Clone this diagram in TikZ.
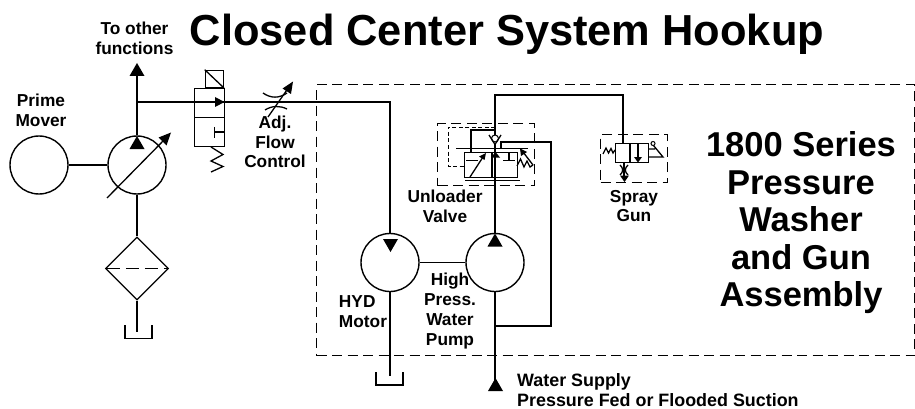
\documentclass[tikz,border=0pt]{standalone}
\usepackage{fontspec}
\setmainfont{Liberation Sans}
\usetikzlibrary{shapes.geometric}
\tikzset{
  ln/.style={line width=1.3pt,line join=miter},
  round sym/.style={circle,draw,line width=1.4pt,minimum size=58pt,inner sep=0pt},
  frame/.style={line width=1.1pt,dash pattern=on 10pt off 5.5pt},
  fine frame/.style={line width=0.9pt,dash pattern=on 4pt off 2.5pt},
  lab/.style={font=\fontsize{17.3}{19.8}\selectfont\bfseries,align=center,inner sep=0pt},
  big/.style={font=\fontsize{34.5}{37.5}\selectfont\bfseries,align=center,inner sep=0pt},
  ttl/.style={font=\fontsize{43.4}{48}\selectfont\bfseries,inner sep=0pt}
}
\newcommand{\triU}[2]{\fill (#1,#2) -- ++(-7.5,13) -- ++(15,0) -- cycle;}
\begin{document}
\begin{tikzpicture}[x=1pt,y=-1pt]
\useasboundingbox (0,0) rectangle (915,409);
% title and labels
\node[ttl,anchor=base] (title) at (507,46) {Closed Center System Hookup};
\node[lab] (others) at (134.5,38.5) {To other\\functions};
\node[lab] (primelab) at (41,110) {Prime\\Mover};
\node[lab] (flowlab) at (275,142) {Adj.\\Flow\\Control};
\node[lab] (unlab) at (445,206) {Unloader\\Valve};
\node[lab] (spraylab) at (634,206) {Spray\\Gun};
\node[lab,align=left] (hydlab) at (363,312) {HYD\\Motor};
\node[lab] (hplab) at (450,311) {High\\Press.\\Water\\Pump};
\node[font=\fontsize{17.9}{19.8}\selectfont\bfseries,align=left,inner sep=0pt,anchor=west] (waterlab) at (517,390) {Water Supply\\Pressure Fed or Flooded Suction};
\node[big] (serieslab) at (801,223) {1800 Series\\Pressure\\Washer\\and Gun\\Assembly};
% big frame
\node[draw,frame,minimum width=598pt,minimum height=271pt,inner sep=0pt,anchor=north west] (assy) at (316,84) {};
% round symbols
\node[round sym] (prime) at (39,165) {};
\node[round sym] (pump) at (137,165) {};
\node[round sym] (motor) at (390,262.5) {};
\node[round sym] (wpump) at (495,262.5) {};
\node[diamond,draw,line width=1.3pt,minimum width=63pt,minimum height=63pt,inner sep=0pt,aspect=1] (filter) at (137,268.5) {};
% left connections
\draw[ln] (prime) -- (pump);
\coordinate (upT) at (137,74);
\draw[ln] (pump.north) -- (upT);
\triU{137}{63}
\triU{137}{136}
\draw[ln] (pump.south) -- (filter.north);
\draw[line width=1.3pt,dash pattern=on 13pt off 6pt,dash phase=-2pt] (filter.west) -- (filter.east);
\coordinate (tankA) at (137,332);
\draw[ln] (filter.south) -- (tankA);
\draw[ln] (125,325) -- (125,338.5) -- (152,338.5) -- (152,325);
% variable pump arrow
\draw[ln] (107,198) -- (166,138);
\fill (171,132.5) -- (158.5,137.5) -- (166.5,145.5) -- cycle;
% directional valve
\node[draw,ln,minimum width=30pt,minimum height=29pt,inner sep=0pt,anchor=north west] (vtop) at (194,88) {};
\node[draw,ln,minimum width=30pt,minimum height=29pt,inner sep=0pt,anchor=north west] (vbot) at (194,117) {};
\node[draw,ln,minimum width=18pt,minimum height=17pt,inner sep=0pt,anchor=south east] (sol) at (224,88) {};
\draw[ln] (sol.north west) -- (sol.south east);
\fill (224.5,102) -- (215,97) -- (215,107) -- cycle;
\draw[ln] (224,132) -- (214.5,132) (214.5,127) -- (214.5,137.5);
\draw[ln] (211,147) -- (223,154.5) -- (211,161) -- (223,166.5) -- (211,172);
% main pressure line to motor
\coordinate (junc) at (137,102);
\coordinate (corner) at (390,102);
\draw[ln] (junc) -- (corner) -- (motor.north);
\fill (390.5,252) -- (383,239) -- (398,239) -- cycle;
% flow control
\draw[ln] (263,93) .. controls (271,98.5) and (279,98.5) .. (287,93);
\draw[ln] (265,110) .. controls (272,105.5) and (280,105.5) .. (287,109);
\draw[ln] (268,117) -- (289,87);
\fill (293,81.5) -- (282.5,88.5) -- (291,94) -- cycle;
% motor - pump
\draw[ln] (motor) -- (wpump);
\coordinate (motortank) at (390,376);
\draw[ln] (motor.south) -- (motortank);
\draw[ln] (376,372) -- (376,385) -- (403,385) -- (403,372);
% water pump
\triU{495}{233.5}
\coordinate (wsup) at (495,380);
\draw[ln] (wpump.south) -- (wsup);
\fill (495.5,378) -- (488,391) -- (503,391) -- cycle;
% outlet loop
\coordinate (t1) at (495,326);
\coordinate (t2) at (551,326);
\coordinate (t3) at (551,142);
\coordinate (t4) at (501,142);
\coordinate (t5) at (501,149);
\draw[ln] (t1) -- (t2) -- (t3) -- (t4) -- (t5);
% unloader valve
\node[draw,frame,minimum width=97pt,minimum height=62pt,inner sep=0pt,anchor=north west] (unfr) at (437,123) {};
\node[draw,ln,minimum width=53pt,minimum height=25pt,inner sep=0pt,anchor=north west] (unbox) at (464,152) {};
\draw[ln] (492,152) -- (492,177);
\draw[fine frame] (495,127) -- (448,127) -- (448,166) -- (464,166);
\draw[ln] (471,152) -- (471,130) -- (495,130);
\draw[ln] (456,148.5) -- (528,148.5);
\draw[ln] (465,180.5) -- (520,180.5);
\draw[ln] (466,160.5) -- (478,160.5);
\draw[ln] (509,152) -- (509,160) (503,160.5) -- (515,160.5);
\draw[ln] (470,177) -- (483,157);
\fill (486,153) -- (479,156.5) -- (484.5,160) -- cycle;
\fill (495.5,152) -- (491,157.5) -- (500,157.5) -- cycle;
\draw[ln] (489,135) -- (495,144.5) -- (501,135);
\draw[line width=1pt] (495,138.5) circle (3.5pt);
\draw[ln] (517,166) -- (520.5,159) -- (524,167) -- (527,161) -- (530,167) -- (533,165);
\draw[ln] (533,165) -- (523,152);
\fill (520,148.5) -- (521,156) -- (527,152) -- cycle;
% main upper line through valve
\coordinate (u1) at (495,95);
\coordinate (u2) at (623,95);
% spray gun
\node[draw,frame,minimum width=67pt,minimum height=48pt,inner sep=0pt,anchor=north west] (spfr) at (600,134) {};
\node[draw,ln,minimum width=33pt,minimum height=19pt,inner sep=0pt,anchor=north west] (spbox) at (615,143) {};
\draw[ln] (630,143) -- (630,162);
\draw[ln] (495,135) -- (u1) -- (u2) -- (u2 |- spbox.north);
\draw[ln] (495,144) -- (wpump.north);
\draw[ln] (638,143) -- (638,158);
\fill (638,162.5) -- (634,157) -- (642,157) -- cycle;
\draw[ln] (603,154) -- (606,148) -- (608.5,153) -- (611,148.5) -- (613,153) -- (615,150);
\draw[ln] (648,149) -- (655,149) (648,157) -- (663,157) -- (653.5,145.5);
\draw[line width=1pt] (653,143.5) circle (2pt);
\coordinate (orif) at (624,177);
\draw[ln] (624,162) -- (orif);
\draw[ln] (620,165) .. controls (623.5,168) and (623.5,172) .. (620,175);
\draw[ln] (628,165) .. controls (624.5,168) and (624.5,172) .. (628,175);
\fill (624.5,182) -- (620,175.5) -- (629,175.5) -- cycle;
\end{tikzpicture}
\end{document}
